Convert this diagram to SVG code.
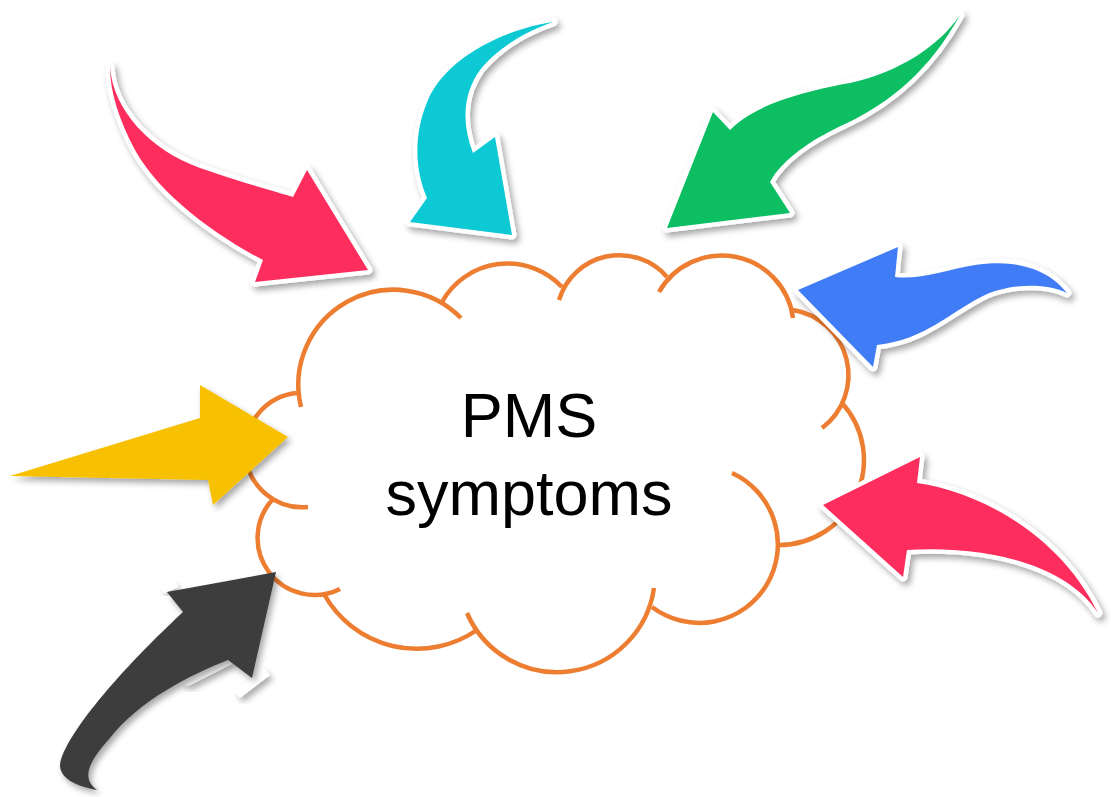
<svg xmlns="http://www.w3.org/2000/svg" width="1111" height="797" viewBox="0 0 1111 797">
<defs>
<filter id="shadow" x="-20%" y="-20%" width="140%" height="140%">
<feDropShadow dx="3" dy="4" stdDeviation="3" flood-color="#000" flood-opacity="0.35"/>
</filter>
</defs>
<style>
.cloud-line{fill:none;stroke:#ED7D31;stroke-width:4.5;stroke-linecap:butt}
.arrow{filter:url(#shadow);stroke:#fff;stroke-width:9;stroke-linejoin:round;paint-order:stroke}
.plain{filter:url(#shadow)}
.label{font-family:"Liberation Sans",Arial,sans-serif;font-size:63px;fill:#000;text-anchor:middle}
</style>
<rect width="1111" height="797" fill="#fff"/>
<g id="cloud">
<path fill="#fff" d="M298,395 A95,95 0 0,1 442,302 A75,75 0 0,1 562,287 A63,63 0 0,1 667,277 A72,72 0 0,1 793,312 A66,66 0 0,1 842,403 A85,85 0 0,1 779,545 A78.5,78.5 0 0,1 652,607 A98,98 0 0,1 477,630 A106,106 0 0,1 324,594 A57,57 0 0,1 273,499 A57,57 0 0,1 298,395 Z"/>
<path class="cloud-line" d="M301,407 A95,95 0 0,1 461,318"/>
<path class="cloud-line" d="M442,302 A75,75 0 0,1 562,287"/>
<path class="cloud-line" d="M559,300 A63,63 0 0,1 667,277"/>
<path class="cloud-line" d="M659,292 A72,72 0 0,1 793,318"/>
<path class="cloud-line" d="M793,310 A66,66 0 0,1 822,428"/>
<path class="cloud-line" d="M842,403 A85,85 0 0,1 779,545"/>
<path class="cloud-line" d="M732,473 A78.5,78.5 0 1,1 652,607"/>
<path class="cloud-line" d="M654,588 A98,98 0 0,1 467,613"/>
<path class="cloud-line" d="M477,630 A106,106 0 0,1 324,594"/>
<path class="cloud-line" d="M340,589 A57,57 0 0,1 273,499"/>
<path class="cloud-line" d="M308,507 A57,57 0 1,1 297,393"/>
<text class="label" x="529" y="437">PMS</text>
<text class="label" x="529" y="515">symptoms</text>
</g>
<g id="arrows">
<g id="arrow-red-topleft">
<path class="arrow" fill="#FD2D5D" d="M110,67 C113,110 150,150 200,168 C240,182 270,190 293,197 L307,170 L368,270 L255,282 L263,260 C215,235 160,195 135,150 C118,118 110,90 110,67 Z"/>
</g>
<g id="arrow-cyan">
<path class="arrow" fill="#09C9D4" d="M553,22 C500,30 445,60 428,100 C413,135 415,170 427,198 L410,222 L512,235 L495,137 L473,153 C462,125 462,95 480,70 C500,45 530,30 553,22 Z"/>
</g>
<g id="arrow-green">
<path class="arrow" fill="#07BE62" d="M960,15 C940,45 900,72 850,83 C800,92 755,105 730,130 L713,112 L667,228 L790,213 L770,182 C782,160 810,140 845,124 C890,103 930,70 960,15 Z"/>
</g>
<g id="arrow-blue">
<path class="arrow" fill="#417CF5" d="M798,290 L898,247 L895,277 C920,280 945,270 975,265 C1010,260 1045,265 1067,293 C1045,282 1010,284 985,295 C950,312 925,340 877,345 L873,367 Z"/>
</g>
<g id="arrow-yellow">
<path class="plain" fill="#F7C000" d="M10,476 L200,418 L200,385 L288,437 L213,505 L208,480 Z"/>
</g>
<g id="arrow-black">
<path class="plain" fill="#fff" d="M161,588 L175,582 L178,587 L164,593 Z"/>
<path class="plain" fill="#fff" d="M240,698 L235,691 L263,668 L270,675 Z"/>
<path class="plain" fill="#fff" d="M180,683 L227,657 L234,663 L188,686 Z"/>
<path class="plain" fill="#3C3C3C" d="M97,790 C75,786 60,778 60,765 C63,740 110,680 183,612 L167,592 L276,572 L252,678 L228,660 C190,675 140,700 110,738 C90,760 80,778 97,790 Z"/>
</g>
<g id="arrow-red-right">
<path class="arrow" fill="#FD2D5D" d="M823,505 L920,457 L917,483 C980,492 1060,535 1098,613 C1070,570 1000,545 907,550 L903,577 Z"/>
</g>
</g>
</svg>
